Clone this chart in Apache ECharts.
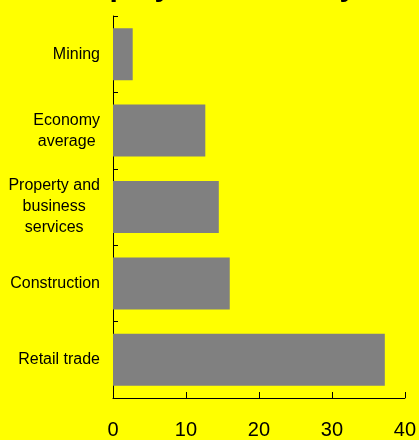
<!DOCTYPE html>
<html lang="en" style="height: 100%">
<head>
    <meta charset="UTF-8">
    <title>Employment density</title>
    <script src="https://cdn.jsdelivr.net/npm/echarts@6/dist/echarts.min.js"></script>
</head>
<body style="height: 100%; margin: 0">
<div id="main" style="width: 419px; height: 440px"></div>
<script>
    var categories = ['Mining', 'Economy\naverage', 'Property and\nbusiness\nservices', 'Construction', 'Retail trade'];
    var values = [2.7, 12.65, 14.5, 16.0, 37.25];
    var xTicks = [0, 10, 20, 30, 40];

    var myChart = echarts.init(document.getElementById('main'));
    var option = {
        backgroundColor: '#ffff00',
        animation: false,
        title: {
            text: 'Employment density',
            left: 'center',
            top: -32,
            textStyle: {
                fontFamily: 'Liberation Sans, Arial, sans-serif',
                fontSize: 30,
                fontWeight: 'bold',
                color: '#000'
            }
        },
        grid: {
            left: 113,
            right: 14,
            top: 16,
            bottom: 39
        },
        xAxis: {
            type: 'value',
            min: xTicks[0],
            max: xTicks[xTicks.length - 1],
            interval: 10,
            splitLine: {show: false},
            axisLine: {show: true, lineStyle: {color: '#000', width: 1}},
            axisTick: {show: true, inside: true, length: 6, lineStyle: {color: '#000'}},
            axisLabel: {
                margin: 22,
                fontFamily: 'Liberation Sans, Arial, sans-serif',
                fontSize: 20,
                color: '#000'
            }
        },
        yAxis: {
            type: 'category',
            inverse: true,
            data: categories,
            axisLine: {show: true, lineStyle: {color: '#000', width: 1}},
            axisTick: {show: true, inside: true, length: 5, lineStyle: {color: '#000'}},
            axisLabel: {
                margin: 13,
                color: '#000',
                align: 'right',
                // each line centred inside the right-aligned block
                formatter: function (value) {
                    return value.split('\n').map(function (l) {
                        return '{c|' + l + '}';
                    }).join('\n');
                },
                rich: {
                    c: {
                        align: 'center',
                        fontFamily: 'Liberation Sans, Arial, sans-serif',
                        fontSize: 16,
                        lineHeight: 21,
                        color: '#000'
                    }
                }
            }
        },
        series: [
            {
                type: 'bar',
                data: values,
                barCategoryGap: '32%',
                itemStyle: {color: '#808080'}
            }
        ]
    };
    myChart.setOption(option);
</script>
</body>
</html>
